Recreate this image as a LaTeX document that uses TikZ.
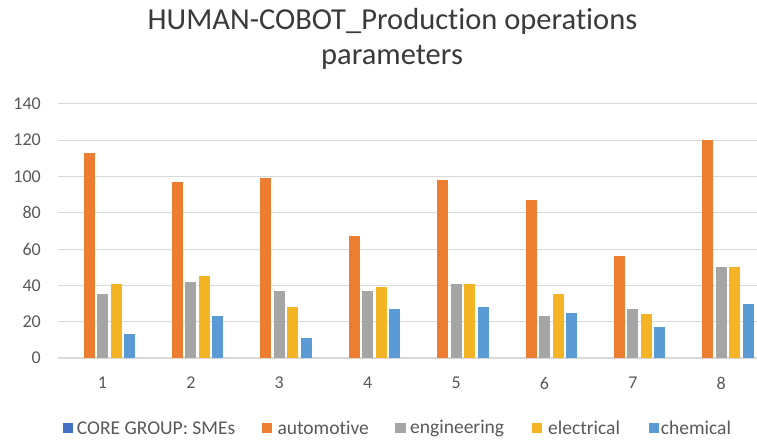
\documentclass[tikz,border=0pt]{standalone}
\usepackage{fontspec}
\setmainfont{Carlito}[Ligatures=NoCommon]
\definecolor{smec}{HTML}{4472C4}
\definecolor{autoc}{HTML}{ED7D31}
\definecolor{engic}{HTML}{A5A5A5}
\definecolor{elecc}{HTML}{F5B425}
\definecolor{chemc}{HTML}{5B9BD5}
\definecolor{gridc}{HTML}{D9D9D9}
\definecolor{txt}{HTML}{595959}
\definecolor{ttl}{HTML}{3A3A3A}
\tikzset{
  gridline/.style={draw=gridc, line width=1.1pt},
  ticklabel/.style={text=txt, inner sep=0pt, font=\fontsize{18}{20}\selectfont},
  legtext/.style={text=txt, inner sep=0pt, anchor=west, font=\fontsize{19.5}{22}\selectfont},
  legbox/.style={inner sep=0pt, minimum size=10.5pt, anchor=west},
  titletext/.style={text=ttl, inner sep=0pt, anchor=base, font=\fontsize{30.5}{36}\selectfont}
}
\begin{document}
\begin{tikzpicture}[x=1pt,y=-1pt]
\useasboundingbox (0,0) rectangle (757,441);
\fill[white] (0,0) rectangle (757,441);
% title
\node[titletext] (title1) at (392.5,30) {HUMAN-COBOT\_Production operations};
\node[titletext] (title2) at (392,65) {parameters};
% grid and y labels
\foreach \v in {0,20,...,140} {
  \draw[gridline] (58,358-\v*1.815) -- (757,358-\v*1.815);
  \node[ticklabel, anchor=east] (yl\v) at (41,358-\v*1.815) {\v};
}
% bars
\foreach \a/\g/\e/\c [count=\i] in {113/35/41/13,97/42/45/23,99/37/28/11,67/37/39/27,98/41/41/28,87/23/35/25,56/27/24/17,120/50/50/30} {
  \pgfmathsetmacro\cx{102.5+88.4*(\i-1)}
  \fill[autoc] (\cx-19,358) rectangle (\cx-8,358-\a*1.815);
  \fill[engic] (\cx-5.5,358) rectangle (\cx+5.5,358-\g*1.815);
  \fill[elecc] (\cx+8,358) rectangle (\cx+19,358-\e*1.815);
  \fill[chemc] (\cx+21.5,358) rectangle (\cx+32.5,358-\c*1.815);
  \node[ticklabel] (cat\i) at (\cx,383) {\i};
}
% legend
\node[legbox, fill=smec] (lb1) at (62.7,428) {};
\node[legtext] (lt1) at (76.7,428) {CORE GROUP: SMEs};
\node[legbox, fill=autoc] (lb2) at (261.7,428) {};
\node[legtext] (lt2) at (277.3,428) {automotive};
\node[legbox, fill=engic] (lb3) at (395,428) {};
\node[legtext] (lt3) at (410,428) {engineering};
\node[legbox, fill=elecc] (lb4) at (531.7,428) {};
\node[legtext] (lt4) at (548,428) {electrical};
\node[legbox, fill=chemc] (lb5) at (648.3,428) {};
\node[legtext] (lt5) at (660.7,428) {chemical};
\end{tikzpicture}
\end{document}
